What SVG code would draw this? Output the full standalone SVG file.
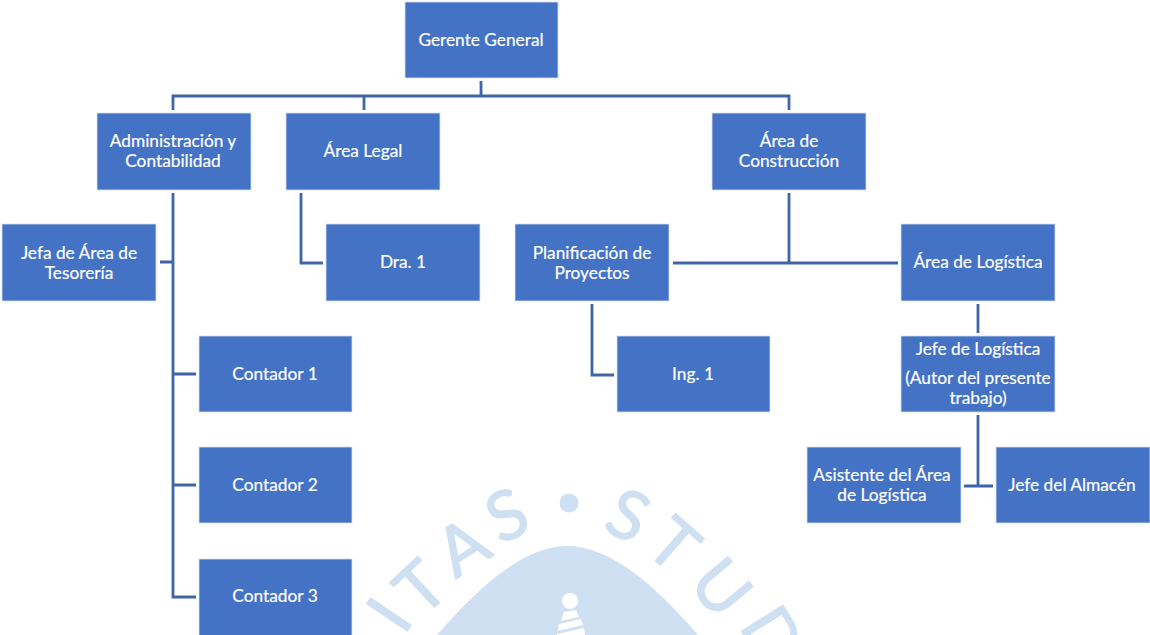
<svg xmlns="http://www.w3.org/2000/svg" width="1150" height="635" viewBox="0 0 1150 635">
<style>
.box{fill:#4472c4;stroke:#d6e0f2;stroke-width:.8}
.t{font-family:"Lato","Liberation Sans",sans-serif;font-size:17.3px;fill:#fff;stroke:#fff;stroke-width:.2;text-anchor:middle}
.c{fill:none;stroke:#3f64a8;stroke-width:2.8}
.wm{font-family:"Lato","Liberation Sans",sans-serif;font-size:68px;fill:#cee0f1;stroke:#cee0f1;stroke-width:1.4;stroke-linejoin:round;text-anchor:middle}
</style>
<rect width="1150" height="635" fill="#fff"/>
<g id="watermark">
<path d="M437 635C480 585 525 546 567 546C610 546 655 585 698 635Z" fill="#cee0f1"/>
<circle cx="569" cy="503" r="9.5" fill="#cee0f1"/>
<circle cx="570" cy="601" r="8" fill="#fff"/>
<path d="M564 612L576 610L579 617L561 621ZM559 624L581 619L583 625L558 631ZM557 634L584 628L585 635H557Z" fill="#fff"/>
<text class="wm" transform="translate(517 537) rotate(-25)">S</text>
<text class="wm" transform="translate(618 537) rotate(25)">S</text>
<text class="wm" transform="translate(475 567) rotate(-32)">A</text>
<text class="wm" transform="translate(437 605) rotate(-43)">T</text>
<text class="wm" transform="translate(409 628) rotate(-56)">I</text>
<text class="wm" transform="translate(658 563) rotate(41)">T</text>
<text class="wm" transform="translate(703 603) rotate(50)">U</text>
<text class="wm" transform="translate(752 648) rotate(58)">D</text>
</g>
<g id="connectors">
<path class="c" d="M481 81V96M173 110V96H789V110M364 96V110"/>
<path class="c" d="M173 193V597H196M160 262H173M173 374H196M173 485H196"/>
<path class="c" d="M301 193V263H323"/>
<path class="c" d="M789 193V263M673 263H898"/>
<path class="c" d="M592 304V375H614"/>
<path class="c" d="M978 304V333M978 415V486M964 486H993"/>
</g>
<g id="gerente"><rect class="box" x="405" y="2" width="153" height="76"/><text class="t" x="481" y="46">Gerente General</text></g>
<g id="admin"><rect class="box" x="97" y="113" width="154" height="77"/><text class="t" x="173" y="147">Administración y</text><text class="t" x="173" y="167">Contabilidad</text></g>
<g id="legal"><rect class="box" x="286" y="113" width="154" height="77"/><text class="t" x="363" y="157">Área Legal</text></g>
<g id="construccion"><rect class="box" x="712" y="113" width="154" height="77"/><text class="t" x="789" y="147">Área de</text><text class="t" x="789" y="167">Construcción</text></g>
<g id="jefa"><rect class="box" x="2" y="224" width="154" height="77"/><text class="t" x="79" y="259">Jefa de Área de</text><text class="t" x="79" y="279">Tesorería</text></g>
<g id="dra"><rect class="box" x="326" y="224" width="154" height="77"/><text class="t" x="403" y="268">Dra. 1</text></g>
<g id="planificacion"><rect class="box" x="515" y="224" width="154" height="77"/><text class="t" x="592" y="259">Planificación de</text><text class="t" x="592" y="279">Proyectos</text></g>
<g id="logistica"><rect class="box" x="901" y="224" width="154" height="77"/><text class="t" x="978" y="268">Área de Logística</text></g>
<g id="contador1"><rect class="box" x="199" y="336" width="153" height="76"/><text class="t" x="275" y="380">Contador 1</text></g>
<g id="ing"><rect class="box" x="617" y="336" width="153" height="76"/><text class="t" x="693" y="380">Ing. 1</text></g>
<g id="jefe"><rect class="box" x="901" y="336" width="154" height="76"/><text class="t" x="978" y="355">Jefe de Logística</text><text class="t" x="978" y="384">(Autor del presente</text><text class="t" x="978" y="404">trabajo)</text></g>
<g id="contador2"><rect class="box" x="199" y="447" width="153" height="76"/><text class="t" x="275" y="491">Contador 2</text></g>
<g id="asistente"><rect class="box" x="807" y="447" width="154" height="76"/><text class="t" x="882" y="481">Asistente del Área</text><text class="t" x="882" y="501">de Logística</text></g>
<g id="almacen"><rect class="box" x="996" y="447" width="154" height="76"/><text class="t" x="1072" y="491">Jefe del Almacén</text></g>
<g id="contador3"><rect class="box" x="199" y="559" width="153" height="77"/><text class="t" x="275" y="602">Contador 3</text></g>
</svg>
